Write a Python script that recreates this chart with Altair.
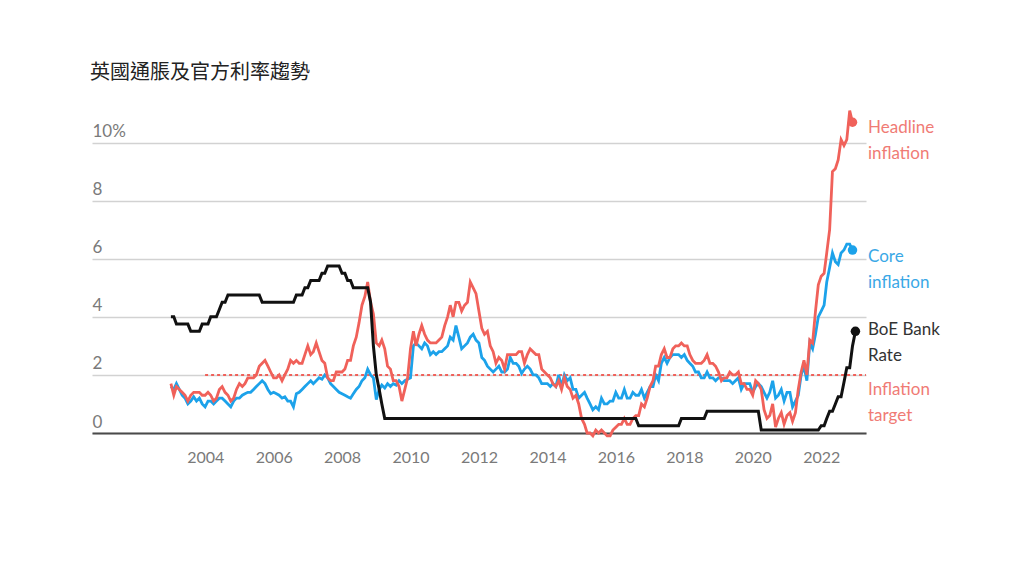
import altair as alt
import pandas as pd

TITLE = "英國通脹及官方利率趨勢"

# Month-end observations, Dec 2002 onwards
START_MONTH = "2002-12-01"

# Headline CPI, annual rate (%), Dec 2002 - Nov 2022
headline = [
    1.7,
    1.3, 1.6, 1.5, 1.4, 1.3, 1.1, 1.3, 1.4, 1.4, 1.4, 1.3, 1.3,   # 2003
    1.4, 1.3, 1.1, 1.2, 1.5, 1.6, 1.4, 1.3, 1.1, 1.2, 1.5, 1.7,   # 2004
    1.6, 1.7, 1.9, 1.9, 1.9, 2.0, 2.3, 2.4, 2.5, 2.3, 2.1, 1.9,   # 2005
    1.9, 2.0, 1.8, 2.0, 2.2, 2.5, 2.4, 2.5, 2.4, 2.4, 2.7, 3.0,   # 2006
    2.7, 2.8, 3.1, 2.8, 2.5, 2.4, 1.9, 1.8, 1.8, 2.1, 2.1, 2.1,   # 2007
    2.2, 2.5, 2.5, 3.0, 3.3, 3.8, 4.4, 4.7, 5.2, 4.5, 4.1, 3.1,   # 2008
    3.0, 3.2, 2.9, 2.3, 2.2, 1.8, 1.8, 1.6, 1.1, 1.5, 1.9, 2.9,   # 2009
    3.5, 3.0, 3.4, 3.7, 3.4, 3.2, 3.1, 3.1, 3.1, 3.2, 3.3, 3.7,   # 2010
    4.0, 4.4, 4.0, 4.5, 4.5, 4.2, 4.4, 4.5, 5.2, 5.0, 4.8, 4.2,   # 2011
    3.6, 3.4, 3.5, 3.0, 2.8, 2.4, 2.6, 2.5, 2.2, 2.7, 2.7, 2.7,   # 2012
    2.7, 2.8, 2.8, 2.4, 2.7, 2.9, 2.8, 2.7, 2.7, 2.2, 2.1, 2.0,   # 2013
    1.9, 1.7, 1.6, 1.8, 1.5, 1.9, 1.6, 1.5, 1.2, 1.3, 1.0, 0.5,   # 2014
    0.3, 0.0, 0.0, -0.1, 0.1, 0.0, 0.1, 0.0, -0.1, -0.1, 0.1, 0.2,  # 2015
    0.3, 0.3, 0.5, 0.3, 0.3, 0.5, 0.6, 0.6, 1.0, 0.9, 1.2, 1.6,   # 2016
    1.8, 2.3, 2.3, 2.7, 2.9, 2.6, 2.6, 2.9, 3.0, 3.0, 3.1, 3.0,   # 2017
    3.0, 2.7, 2.5, 2.4, 2.4, 2.4, 2.5, 2.7, 2.4, 2.4, 2.3, 2.1,   # 2018
    1.8, 1.9, 1.9, 2.1, 2.0, 2.0, 2.1, 1.7, 1.7, 1.5, 1.5, 1.3,   # 2019
    1.8, 1.7, 1.5, 0.8, 0.5, 0.6, 1.0, 0.2, 0.5, 0.7, 0.3, 0.6,   # 2020
    0.7, 0.4, 0.7, 1.5, 2.1, 2.5, 2.0, 3.2, 3.1, 4.2, 5.1, 5.4,   # 2021
    5.5, 6.2, 7.0, 9.0, 9.1, 9.4, 10.1, 9.9, 10.1, 11.1, 10.7,    # 2022
]

# Core CPI (ex energy, food, alcohol & tobacco), annual rate (%), Dec 2002 - Nov 2022
core = [
    1.6,
    1.5, 1.7, 1.5, 1.3, 1.2, 1.0, 1.1, 1.25, 1.1, 1.2, 1.0, 0.9,  # 2003
    1.1, 1.1, 1.0, 1.1, 1.2, 1.2, 1.1, 1.0, 0.9, 1.1, 1.2, 1.2,   # 2004
    1.3, 1.35, 1.4, 1.4, 1.5, 1.6, 1.7, 1.8, 1.7, 1.5, 1.35, 1.4, # 2005
    1.35, 1.3, 1.2, 1.25, 1.1, 1.1, 0.9, 1.35, 1.4, 1.5, 1.6, 1.7, # 2006
    1.8, 1.7, 1.8, 1.9, 1.85, 2.0, 1.9, 1.7, 1.6, 1.5, 1.4, 1.35, # 2007
    1.3, 1.25, 1.2, 1.35, 1.5, 1.6, 1.8, 1.9, 2.2, 2.0, 1.9, 1.15, # 2008
    1.5, 1.65, 1.55, 1.7, 1.6, 1.7, 1.65, 1.8, 1.7, 1.8, 1.85, 1.9, # 2009
    3.0, 3.1, 3.0, 2.9, 3.1, 3.0, 2.7, 2.8, 2.7, 2.8, 2.8, 2.9,   # 2010
    3.0, 3.3, 3.2, 3.7, 3.3, 2.9, 3.0, 3.1, 3.3, 3.4, 3.2, 3.1,   # 2011
    2.6, 2.5, 2.3, 2.2, 2.1, 2.2, 2.3, 2.1, 2.1, 2.2, 2.6, 2.4,   # 2012
    2.4, 2.3, 2.05, 2.2, 2.3, 2.2, 2.0, 2.0, 1.9, 1.7, 1.7, 1.7,  # 2013
    1.6, 1.7, 1.6, 2.0, 1.6, 2.0, 1.8, 1.9, 1.5, 1.5, 1.2, 1.3,   # 2014
    1.4, 1.2, 1.0, 0.8, 0.9, 0.8, 1.2, 1.0, 1.0, 1.1, 1.1, 1.4,   # 2015
    1.2, 1.2, 1.5, 1.2, 1.2, 1.4, 1.3, 1.3, 1.5, 1.2, 1.4, 1.6,   # 2016
    1.6, 2.0, 1.8, 2.4, 2.6, 2.4, 2.6, 2.7, 2.7, 2.7, 2.6, 2.7,   # 2017
    2.5, 2.4, 2.3, 2.1, 2.1, 1.9, 1.9, 2.1, 1.9, 1.9, 1.8, 1.9,   # 2018
    1.9, 1.8, 1.8, 1.8, 1.7, 1.8, 1.9, 1.5, 1.7, 1.7, 1.7, 1.4,   # 2019
    1.6, 1.7, 1.6, 1.4, 1.2, 1.4, 1.8, 1.2, 1.3, 1.5, 1.1, 1.4,   # 2020
    1.4, 0.9, 1.1, 1.3, 2.0, 2.3, 1.8, 3.1, 2.9, 3.4, 4.0, 4.2,   # 2021
    4.4, 5.2, 5.7, 6.2, 5.9, 5.8, 6.2, 6.3, 6.5, 6.5, 6.3,        # 2022
]

# Bank of England Bank Rate (%), month end, Dec 2002 - Dec 2022
bank_rate = [
    4.0,
    4.0, 3.75, 3.75, 3.75, 3.75, 3.75, 3.5, 3.5, 3.5, 3.5, 3.75, 3.75,        # 2003
    3.75, 4.0, 4.0, 4.0, 4.25, 4.5, 4.5, 4.75, 4.75, 4.75, 4.75, 4.75,        # 2004
    4.75, 4.75, 4.75, 4.75, 4.75, 4.75, 4.75, 4.5, 4.5, 4.5, 4.5, 4.5,        # 2005
    4.5, 4.5, 4.5, 4.5, 4.5, 4.5, 4.5, 4.75, 4.75, 4.75, 5.0, 5.0,            # 2006
    5.25, 5.25, 5.25, 5.25, 5.5, 5.5, 5.75, 5.75, 5.75, 5.75, 5.75, 5.5,      # 2007
    5.5, 5.25, 5.25, 5.0, 5.0, 5.0, 5.0, 5.0, 5.0, 4.5, 3.0, 2.0,             # 2008
    1.5, 1.0, 0.5, 0.5, 0.5, 0.5, 0.5, 0.5, 0.5, 0.5, 0.5, 0.5,               # 2009
    0.5, 0.5, 0.5, 0.5, 0.5, 0.5, 0.5, 0.5, 0.5, 0.5, 0.5, 0.5,               # 2010
    0.5, 0.5, 0.5, 0.5, 0.5, 0.5, 0.5, 0.5, 0.5, 0.5, 0.5, 0.5,               # 2011
    0.5, 0.5, 0.5, 0.5, 0.5, 0.5, 0.5, 0.5, 0.5, 0.5, 0.5, 0.5,               # 2012
    0.5, 0.5, 0.5, 0.5, 0.5, 0.5, 0.5, 0.5, 0.5, 0.5, 0.5, 0.5,               # 2013
    0.5, 0.5, 0.5, 0.5, 0.5, 0.5, 0.5, 0.5, 0.5, 0.5, 0.5, 0.5,               # 2014
    0.5, 0.5, 0.5, 0.5, 0.5, 0.5, 0.5, 0.5, 0.5, 0.5, 0.5, 0.5,               # 2015
    0.5, 0.5, 0.5, 0.5, 0.5, 0.5, 0.5, 0.25, 0.25, 0.25, 0.25, 0.25,          # 2016
    0.25, 0.25, 0.25, 0.25, 0.25, 0.25, 0.25, 0.25, 0.25, 0.25, 0.5, 0.5,     # 2017
    0.5, 0.5, 0.5, 0.5, 0.5, 0.5, 0.5, 0.75, 0.75, 0.75, 0.75, 0.75,          # 2018
    0.75, 0.75, 0.75, 0.75, 0.75, 0.75, 0.75, 0.75, 0.75, 0.75, 0.75, 0.75,   # 2019
    0.75, 0.75, 0.1, 0.1, 0.1, 0.1, 0.1, 0.1, 0.1, 0.1, 0.1, 0.1,             # 2020
    0.1, 0.1, 0.1, 0.1, 0.1, 0.1, 0.1, 0.1, 0.1, 0.1, 0.1, 0.25,              # 2021
    0.25, 0.5, 0.75, 0.75, 1.0, 1.25, 1.25, 1.75, 2.25, 2.25, 3.0, 3.5,       # 2022
]

TARGET = 2.0
TARGET_FROM = "2003-12-31"

year_ticks = [2004, 2006, 2008, 2010, 2012, 2014, 2016, 2018, 2020, 2022]
y_ticks = [0, 2, 4, 6, 8, 10]

label_text = {
    "headline": "Headline\ninflation",
    "core": "Core\ninflation",
    "rate": "BoE Bank\nRate",
    "target": "Inflation\ntarget",
}

RED = "#f0615a"
RED_TXT = "#f07b75"
BLUE = "#1ca2ea"
BLUE_TXT = "#3aa8e6"
BLACK = "#111111"
GREY_TXT = "#7a7a7a"

X_MIN = alt.DateTime(year=2000, month=9, date=10)
X_MAX = alt.DateTime(year=2023, month=4, date=23)
X_MAX_STR = "2023-04-23"


def month_ends(n):
    return (pd.date_range(START_MONTH, periods=n, freq="MS") + pd.offsets.MonthEnd(0)).strftime("%Y-%m-%d")


infl_dates = month_ends(len(headline))
rate_dates = month_ends(len(bank_rate))

df_head = pd.DataFrame({"date": infl_dates, "value": headline})
df_core = pd.DataFrame({"date": infl_dates, "value": core})
df_rate = pd.DataFrame({"date": rate_dates, "value": bank_rate})
df_target = pd.DataFrame({"date": [TARGET_FROM, X_MAX_STR], "value": [TARGET, TARGET]})

x_scale = alt.Scale(domain=[X_MIN, X_MAX])
y_scale = alt.Scale(domain=[0, 11.5], nice=False, zero=False)

X = alt.X(
    "date:T",
    scale=x_scale,
    title=None,
    axis=alt.Axis(
        values=[alt.DateTime(year=y, month=1, date=1) for y in year_ticks],
        format="%Y",
        grid=False,
        ticks=False,
        tickSize=0,
        domain=True,
        domainColor="#4a4a4a",
        domainWidth=2,
        labelPadding=16,
        labelFontSize=16,
        labelColor=GREY_TXT,
        labelFont="Lato",
    ),
)
Y = alt.Y(
    "value:Q",
    scale=y_scale,
    title=None,
    axis=alt.Axis(
        values=y_ticks,
        labelExpr="datum.value == 10 ? '10%' : datum.label",
        grid=True,
        gridColor="#d2d2d2",
        gridWidth=1.5,
        domain=False,
        ticks=False,
        tickSize=0,
        labelPadding=0,
        labelAlign="left",
        labelBaseline="alphabetic",
        labelOffset=-6,
        labelFontSize=17,
        labelColor=GREY_TXT,
        labelFont="Lato",
    ),
)
Xn = alt.X("date:T", scale=x_scale)
Yn = alt.Y("value:Q", scale=y_scale)

target = alt.Chart(df_target).mark_line(color=RED, strokeWidth=2, strokeDash=[3, 3]).encode(x=X, y=Y)
core_line = alt.Chart(df_core).mark_line(color=BLUE, strokeWidth=2.8).encode(x=Xn, y=Yn)
head_line = alt.Chart(df_head).mark_line(color=RED, strokeWidth=2.8).encode(x=Xn, y=Yn)
rate_line = alt.Chart(df_rate).mark_line(color=BLACK, strokeWidth=3).encode(x=Xn, y=Yn)

head_dot = alt.Chart(df_head.tail(1)).mark_circle(color=RED, size=90, opacity=1).encode(x=Xn, y=Yn)
core_dot = alt.Chart(df_core.tail(1)).mark_circle(color=BLUE, size=90, opacity=1).encode(x=Xn, y=Yn)
rate_dot = alt.Chart(df_rate.tail(1)).mark_circle(color=BLACK, size=90, opacity=1).encode(x=Xn, y=Yn)


def label(key, value, color, dy):
    df = pd.DataFrame({"date": [X_MAX_STR], "value": [value], "text": [label_text[key]]})
    return alt.Chart(df).mark_text(
        align="left", baseline="middle", dx=2, dy=dy, lineBreak="\n", lineHeight=26,
        fontSize=17, font="Lato", color=color,
    ).encode(x=Xn, y=Yn, text="text:N")


labels = [
    label("headline", headline[-1], RED_TXT, 6),
    label("core", core[-1], BLUE_TXT, 7),
    label("rate", bank_rate[-1], "#333333", -1),
    label("target", TARGET, RED_TXT, 15),
]

chart = alt.layer(
    target, core_line, head_line, rate_line, head_dot, core_dot, rate_dot, *labels
).properties(
    width=774,
    height=334,
    title=alt.TitleParams(
        TITLE, anchor="start", frame="group", font="Noto Sans CJK TC", fontSize=20,
        fontWeight="normal", color="#222222", baseline="bottom", offset=20, dy=24, dx=-2,
    ),
    autosize=alt.AutoSizeParams(type="none"),
    padding={"left": 84, "top": 91, "right": 142, "bottom": 135},
    background="white",
).configure_view(stroke=None)

chart.save("out.html", embed_options={"renderer": "svg", "actions": False})
